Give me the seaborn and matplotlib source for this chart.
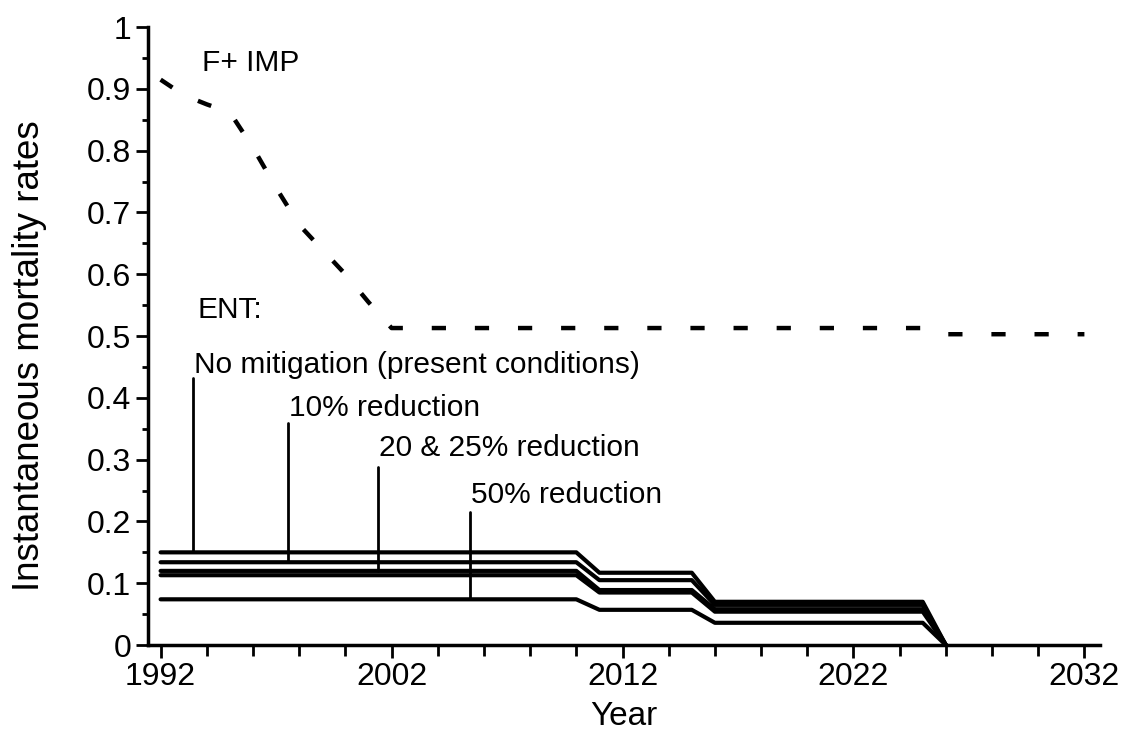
import numpy as np
import pandas as pd
import seaborn as sns
import matplotlib.pyplot as plt
from matplotlib.ticker import MultipleLocator

# F+ IMP (dashed curve)
imp_years = [1992, 1993, 1994, 1995, 1996, 1997, 1998, 1999, 2000, 2001, 2002,
             2025, 2026, 2032]
imp_rates = [0.915, 0.89, 0.875, 0.862, 0.805, 0.74, 0.68, 0.64, 0.60, 0.555, 0.513,
             0.513, 0.503, 0.503]

# ENT scenarios (solid step lines)
ent_years = [1992, 2010, 2011, 2015, 2016, 2025, 2026]
no_mitigation = [0.150, 0.150, 0.117, 0.117, 0.070, 0.070, 0.0]
red_10 = [0.134, 0.134, 0.105, 0.105, 0.065, 0.065, 0.0]
red_20 = [0.120, 0.120, 0.089, 0.089, 0.058, 0.058, 0.0]
red_25 = [0.113, 0.113, 0.085, 0.085, 0.054, 0.054, 0.0]
red_50 = [0.074, 0.074, 0.057, 0.057, 0.036, 0.036, 0.0]

scenarios = {
    "No mitigation": no_mitigation,
    "10%": red_10,
    "20%": red_20,
    "25%": red_25,
    "50%": red_50,
}

ent = pd.concat([pd.DataFrame({"year": ent_years, "rate": v, "scenario": k})
                 for k, v in scenarios.items()])
imp = pd.DataFrame({"year": imp_years, "rate": imp_rates})

sns.set_style("ticks")
plt.rcParams["font.family"] = ["Liberation Sans", "DejaVu Sans"]
plt.rcParams["text.color"] = "black"
plt.rcParams["axes.labelcolor"] = "black"
plt.rcParams["xtick.color"] = "black"
plt.rcParams["ytick.color"] = "black"

fig = plt.figure(figsize=(11.29, 7.33), dpi=100)
ax = fig.add_axes([0.131, 0.120, 0.843, 0.843])

sns.lineplot(data=ent, x="year", y="rate", hue="scenario", units="scenario",
             estimator=None, palette=["black"] * 5, linewidth=3, legend=False,
             ax=ax)
sns.lineplot(data=imp, x="year", y="rate", color="black", linewidth=3.2,
             ax=ax, legend=False)
ax.lines[-1].set_dashes([3.2, 6.5])

# labels with pointer lines: (text, series, x of pointer, pointer top, text y)
labels = [
    ("No mitigation (present conditions)", "No mitigation", 1993.4, 0.432, 0.453),
    ("10% reduction", "10%", 1997.5, 0.359, 0.383),
    ("20 & 25% reduction", "20%", 2001.4, 0.288, 0.319),
    ("50% reduction", "50%", 2005.4, 0.215, 0.243),
]
for text, key, xpos, top, ty in labels:
    base = np.interp(xpos, ent_years, scenarios[key])
    ax.plot([xpos, xpos], [base, top], color="black", linewidth=2)
    ax.text(xpos + 0.05, ty, text, fontsize=21.5, ha="left", va="center")

ax.text(1993.6, 0.542, "ENT:", fontsize=21.5, ha="left", va="center")
ax.text(1993.8, 0.942, "F+ IMP", fontsize=21.5, ha="left", va="center")

ax.set_xlim(1991.45, 2032.66)
ax.set_ylim(0, 1)
ax.set_xticks([1992, 2002, 2012, 2022, 2032])
ax.xaxis.set_minor_locator(MultipleLocator(2))
ax.set_yticks(np.round(np.arange(0, 1.01, 0.1), 1))
ax.set_yticklabels(["0"] + [f"{v:.1f}" for v in np.arange(0.1, 0.95, 0.1)] + ["1"])
ax.yaxis.set_minor_locator(MultipleLocator(0.05))

ax.tick_params(axis="both", which="major", labelsize=23, width=2, length=9,
               direction="out", pad=3)
ax.tick_params(axis="y", which="minor", width=2, length=4, direction="out")
ax.tick_params(axis="x", which="minor", width=2, length=8, direction="out")

for side in ["top", "right"]:
    ax.spines[side].set_visible(False)
for side in ["left", "bottom"]:
    ax.spines[side].set_linewidth(2.5)
    ax.spines[side].set_color("black")

ax.set_xlabel("Year", fontsize=24, labelpad=7)
ax.set_ylabel("Instantaneous mortality rates", fontsize=26.5)
ax.yaxis.set_label_coords(-0.106, 0.468)

fig.savefig("out.png", dpi=100)
